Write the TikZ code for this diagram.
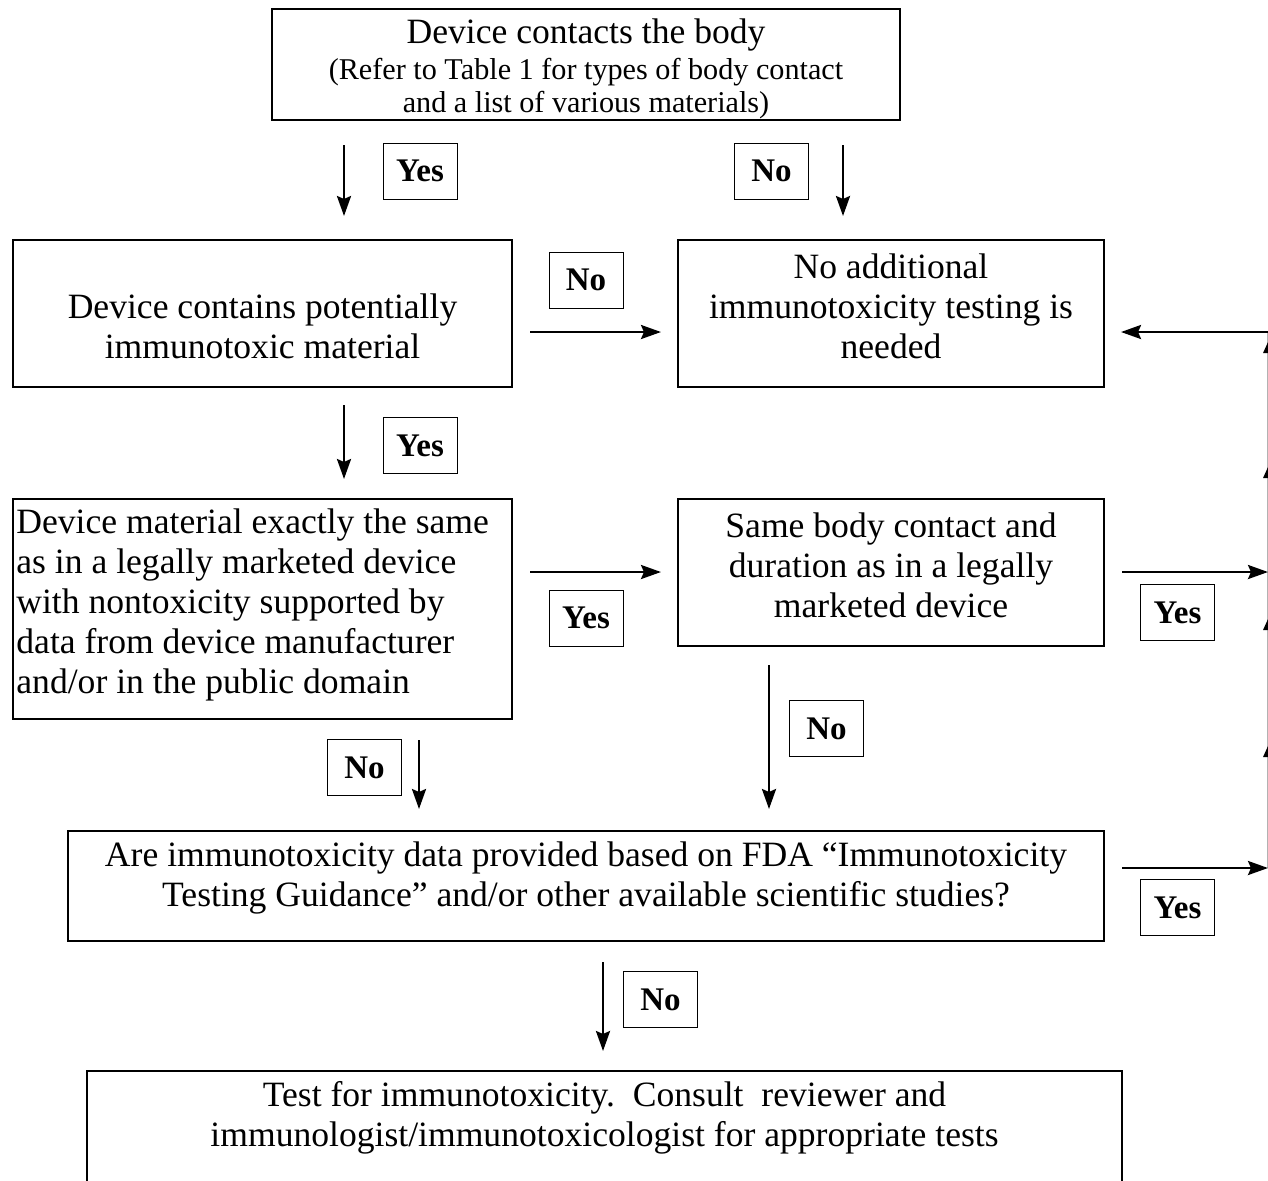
\documentclass[tikz,border=0pt]{standalone}
\usepackage{fontspec}
\setmainfont{Liberation Serif}
\usetikzlibrary{arrows.meta}
\tikzset{
  box/.style={draw, line width=0.6pt, inner sep=0pt},
  lbl/.style={draw, line width=0.5pt, minimum width=37pt, minimum height=28pt, inner sep=0pt,
    font=\fontsize{16.5}{18}\selectfont\bfseries},
  txt/.style={align=center, inner sep=0pt, font=\fontsize{17.8}{20}\selectfont},
  arr/.style={line width=1.3pt, -{Stealth[length=10pt, width=7pt, inset=1.5pt]}},
  edge/.style={draw=black!30, line width=0.5pt},
}
\begin{document}
\begin{tikzpicture}[x=0.5pt, y=-0.5pt]
\useasboundingbox (0,0) rectangle (1268,1180);
% boxes
\node[box, minimum width=314pt, minimum height=55.5pt] (T) at (586,64.5) {};
\node[txt] (Tt) at (586,35) {Device contacts the body};
\node[txt, font=\fontsize{15.1}{16.5}\selectfont] (Ts) at (586,89) {(Refer to Table 1 for types of body contact\\and a list of various materials)};

\node[box, minimum width=249.5pt, minimum height=73.5pt] (A) at (262.5,313.5) {};
\node[txt] (At) at (262.5,326) {Device contains potentially\\immunotoxic material};

\node[box, minimum width=213pt, minimum height=73.5pt] (B) at (891,313.5) {};
\node[txt] (Bt) at (891,306) {No additional\\immunotoxicity testing is\\needed};

\node[box, minimum width=249.5pt, minimum height=110pt] (C) at (262.5,609) {};
\node[txt, align=left, anchor=west] (Ct) at (16,605) {Device material exactly the same\\as in a legally marketed device\\with nontoxicity supported by\\data from device manufacturer\\and/or in the public domain};

\node[box, minimum width=213pt, minimum height=73.5pt] (D) at (891,572.5) {};
\node[txt] (Dt) at (891,565) {Same body contact and\\duration as in a legally\\marketed device};

\node[box, minimum width=518pt, minimum height=55pt] (E) at (586,886) {};
\node[txt] (Et) at (586,878) {Are immunotoxicity data provided based on FDA “Immunotoxicity\\Testing Guidance” and/or other available scientific studies?};

\node[box, minimum width=517.5pt, minimum height=64.5pt] (F) at (604.5,1135.5) {};
\node[txt] (Ft) at (604.5,1118) {Test for immunotoxicity.\ \ Consult\ \ reviewer and\\immunologist/immunotoxicologist for appropriate tests};

% labels
\node[lbl] (L1) at (420,171) {Yes};
\node[lbl] (L2) at (771.5,171) {No};
\node[lbl] (L3) at (586,280) {No};
\node[lbl] (L4) at (420,445.5) {Yes};
\node[lbl] (L5) at (586,618) {Yes};
\node[lbl] (L6) at (1177.5,612.5) {Yes};
\node[lbl] (L7) at (364.5,767.5) {No};
\node[lbl] (L8) at (826.5,728.5) {No};
\node[lbl] (L9) at (1177.5,907.5) {Yes};
\node[lbl] (L10) at (660.5,999.5) {No};

% connector end points
\coordinate (a1s) at (344,145); \coordinate (a1e) at (344,216);
\coordinate (a2s) at (843,145); \coordinate (a2e) at (843,216);
\coordinate (a3s) at (530,332); \coordinate (a3e) at (661,332);
\coordinate (r1) at (1268,332); \coordinate (a4e) at (1121,332);
\coordinate (a5s) at (344,405); \coordinate (a5e) at (344,479);
\coordinate (a6s) at (530,572); \coordinate (a6e) at (661,572);
\coordinate (a7s) at (1122,572); \coordinate (r2) at (1268,572);
\coordinate (a8s) at (419,740); \coordinate (a8e) at (419,809);
\coordinate (a9s) at (769,665); \coordinate (a9e) at (769,809);
\coordinate (a10s) at (1122,868); \coordinate (r3) at (1268,868);
\coordinate (a11s) at (603,962); \coordinate (a11e) at (603,1051);

\draw[edge] (1267,332) -- (1267,868);
\foreach \yy in {353,478,630,757}
  \fill (1263,\yy) -- (1268,\yy-11) -- (1268,\yy) -- cycle;

\draw[arr] (a1s) -- (a1e);
\draw[arr] (a2s) -- (a2e);
\draw[arr] (a3s) -- (a3e);
\draw[arr] (r1) -- (a4e);
\draw[arr] (a5s) -- (a5e);
\draw[arr] (a6s) -- (a6e);
\draw[arr] (a7s) -- (r2);
\draw[arr] (a8s) -- (a8e);
\draw[arr] (a9s) -- (a9e);
\draw[arr] (a10s) -- (r3);
\draw[arr] (a11s) -- (a11e);
\end{tikzpicture}
\end{document}
